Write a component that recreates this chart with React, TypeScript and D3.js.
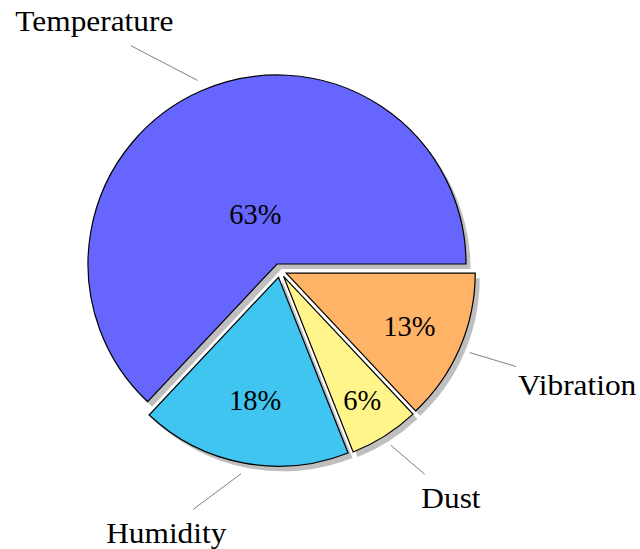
import React from "react";
import * as d3 from "d3";

const categories = ["Temperature", "Humidity", "Dust", "Vibration"];
const values = [63, 18, 6, 13];
const colors = ["#6666ff", "#3fc5f0", "#fff58a", "#ffb366"];

const W = 640;
const H = 549;
const CX = 279.8;
const CY = 270.4;
const R = 189;
const EXPLODE = 7;
const SHADOW_DX = 4.5;
const SHADOW_DY = 5;
const FONT = "'Liberation Serif'";
const FS = 28.5;
const LABEL_R = 246;
const PAD_X = 6;
const ASC = 24;
const DESC = 7;
const PIN_START = 200;

function measure(text: string): number {
  const ctx = document.createElement("canvas").getContext("2d");
  if (!ctx) return text.length * FS * 0.46;
  ctx.font = `${FS}px ${FONT}`;
  return ctx.measureText(text).width;
}

export default function App() {
  const pie = d3
    .pie<number>()
    .value((d) => d)
    .sort(null)
    .startAngle(Math.PI / 2)
    .endAngle(Math.PI / 2 - 2 * Math.PI);
  const arcs = pie(values);
  const arcGen = d3.arc<d3.PieArcDatum<number>>().innerRadius(0).outerRadius(R);

  const slices = arcs.map((a, i) => {
    const mid = (a.startAngle + a.endAngle) / 2;
    const dx = Math.sin(mid);
    const dy = -Math.cos(mid);
    const sx = CX + EXPLODE * dx;
    const sy = CY + EXPLODE * dy;
    const spanDeg = (Math.abs(a.endAngle - a.startAngle) * 180) / Math.PI;
    const inner = Math.max((0.8 - (0.3 * spanDeg) / 110) * R + EXPLODE, 0.29 * R);
    const w = measure(categories[i]) * 1.1;
    const ax = sx + LABEL_R * dx;
    const ay = sy + LABEL_R * dy;
    const tx = dx >= 0 ? ax + PAD_X : ax - PAD_X - w;
    const base = dy < 0 ? ay - DESC : ay + ASC;
    const bx0 = tx - PAD_X;
    const bx1 = tx + w + PAD_X;
    const by0 = base - ASC;
    const by1 = base + DESC;
    const bcx = (bx0 + bx1) / 2;
    const bcy = (by0 + by1) / 2;
    const mx = sx + R * dx;
    const my = sy + R * dy;
    let lx = bcx - mx;
    let ly = bcy - my;
    const len = Math.hypot(lx, ly);
    lx /= len;
    ly /= len;
    const tX = lx > 0 ? (bx0 - mx) / lx : (bx1 - mx) / lx;
    const tY = ly > 0 ? (by0 - my) / ly : (by1 - my) / ly;
    const tHit = Math.max(tX, tY);
    const t1 = tHit - 14;
    return {
      a,
      i,
      sx,
      sy,
      nx: sx + inner * dx,
      ny: sy + inner * dy,
      tx,
      base,
      w,
      line: [sx + PIN_START * dx, sy + PIN_START * dy, mx + t1 * lx, my + t1 * ly],
    };
  });

  const textStyle = { fontFamily: FONT, fontSize: FS };

  return (
    <svg
      width={W}
      height={H}
      style={{ position: "absolute", left: 0, top: 0, background: "#fff" }}
    >
      <g>
        {slices.map((s) => (
          <path
            key={"sh" + s.i}
            d={arcGen(s.a) || ""}
            transform={`translate(${s.sx + SHADOW_DX},${s.sy + SHADOW_DY})`}
            fill="#bfbfbf"
          />
        ))}
      </g>
      <g>
        {slices.map((s) => (
          <path
            key={"sl" + s.i}
            d={arcGen(s.a) || ""}
            transform={`translate(${s.sx},${s.sy})`}
            fill={colors[s.i]}
            stroke="#000"
            strokeWidth={1.2}
            strokeLinejoin="miter"
          />
        ))}
      </g>
      <g>
        {slices.map((s) => (
          <text
            key={"pc" + s.i}
            x={s.nx}
            y={s.ny}
            dy="0.35em"
            textAnchor="middle"
            style={textStyle}
            fill="#000"
          >
            {`${values[s.i]}%`}
          </text>
        ))}
      </g>
      <g>
        {slices.map((s) => (
          <line
            key={"ln" + s.i}
            x1={s.line[0]}
            y1={s.line[1]}
            x2={s.line[2]}
            y2={s.line[3]}
            stroke="#808080"
            strokeWidth={1}
          />
        ))}
      </g>
      <g>
        {slices.map((s) => (
          <text
            key={"lb" + s.i}
            x={s.tx}
            y={s.base}
            style={textStyle}
            textLength={s.w}
            lengthAdjust="spacingAndGlyphs"
            fill="#000"
          >
            {categories[s.i]}
          </text>
        ))}
      </g>
    </svg>
  );
}
